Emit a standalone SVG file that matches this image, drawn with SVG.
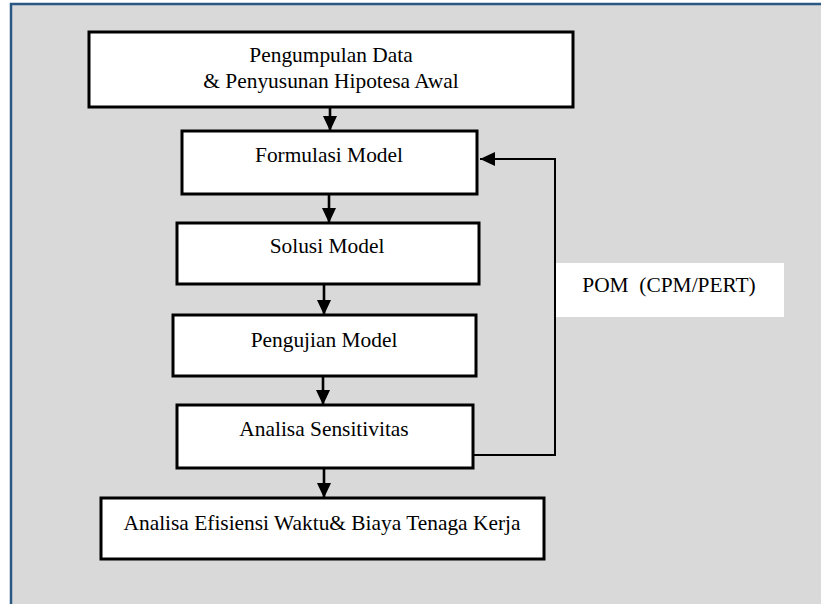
<svg xmlns="http://www.w3.org/2000/svg" width="821" height="604" viewBox="0 0 821 604">
<defs>
<style>
.box{fill:#ffffff;stroke:#000000;stroke-width:3}
.lbl{font-family:"Liberation Serif","Times New Roman",serif;font-size:21.4px;fill:#000000;text-anchor:middle}
.conn{fill:none;stroke:#000000;stroke-width:2.6}
.fb{fill:none;stroke:#000000;stroke-width:2}
</style>
<marker id="ah" markerUnits="userSpaceOnUse" markerWidth="16" markerHeight="16" viewBox="0 0 16 16" refX="15" refY="8" orient="auto">
<path d="M0,1 L15,8 L0,15 Z" fill="#000000"/>
</marker>
</defs>
<rect x="0" y="0" width="821" height="604" fill="#ffffff"/>
<rect id="frame" x="11" y="4" width="830" height="620" fill="#d9d9d9" stroke="#2b5783" stroke-width="2.5"/>

<g id="connectors">
<line class="conn" x1="330" y1="108" x2="330" y2="131" marker-end="url(#ah)"/>
<line class="conn" x1="329" y1="195" x2="329" y2="223" marker-end="url(#ah)"/>
<line class="conn" x1="324" y1="285" x2="324" y2="315" marker-end="url(#ah)"/>
<line class="conn" x1="323" y1="377" x2="323" y2="405" marker-end="url(#ah)"/>
<line class="conn" x1="324" y1="469" x2="324" y2="498" marker-end="url(#ah)"/>
<polyline class="fb" points="474,455 555,455 555,159 480,159" marker-end="url(#ah)"/>
</g>

<g id="pom-label">
<rect x="556" y="263" width="228" height="54" fill="#ffffff"/>
<text class="lbl" x="669" y="292" xml:space="preserve">POM  (CPM/PERT)</text>
</g>

<g id="node-pengumpulan">
<rect class="box" x="89" y="32" width="484" height="75"/>
<text class="lbl" x="331" y="62">Pengumpulan Data</text>
<text class="lbl" x="331" y="88">&amp; Penyusunan Hipotesa Awal</text>
</g>

<g id="node-formulasi">
<rect class="box" x="182" y="131" width="295" height="63"/>
<text class="lbl" x="329" y="162">Formulasi Model</text>
</g>

<g id="node-solusi">
<rect class="box" x="177" y="223" width="302" height="61"/>
<text class="lbl" x="327" y="253">Solusi Model</text>
</g>

<g id="node-pengujian">
<rect class="box" x="173" y="315" width="303" height="61"/>
<text class="lbl" x="324" y="347">Pengujian Model</text>
</g>

<g id="node-sensitivitas">
<rect class="box" x="177" y="405" width="296" height="63"/>
<text class="lbl" x="324" y="436">Analisa Sensitivitas</text>
</g>

<g id="node-efisiensi">
<rect class="box" x="101" y="498" width="443" height="61"/>
<text class="lbl" x="322" y="530">Analisa Efisiensi Waktu&amp; Biaya Tenaga Kerja</text>
</g>
</svg>
